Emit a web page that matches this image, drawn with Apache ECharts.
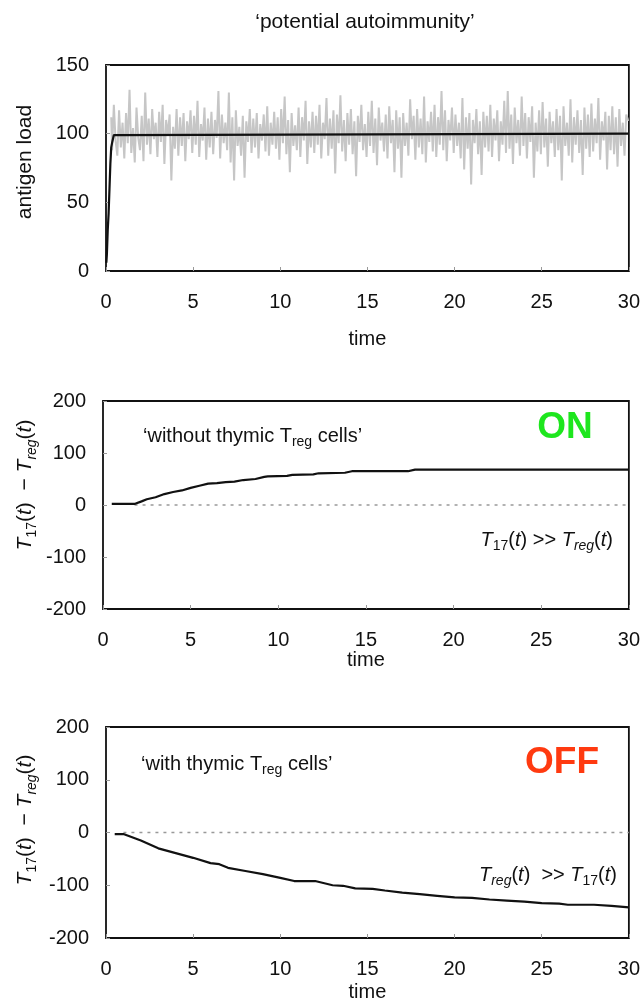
<!DOCTYPE html>
<html>
<head>
<meta charset="utf-8">
<script src="https://cdn.jsdelivr.net/npm/echarts@6/dist/echarts.min.js"></script>
<style>
html,body{margin:0;padding:0;background:#fff;}
#c{width:643px;height:1003px;}
</style>
</head>
<body>
<div id="c"></div>
<script>
// ---------- DATA ----------
const xTicks = [0, 5, 10, 15, 20, 25, 30];
const yTicksTop = [0, 50, 100, 150];
const yTicksDiff = [-200, -100, 0, 100, 200];

// gray stochastic antigen load, sampled every 0.1 time unit starting at t = 0.3
const antigenNoiseStart = 0.3;
const antigenNoiseStep = 0.1;
const antigenNoise = [
  112, 88, 121, 95, 84, 117, 90,
  108, 82, 115, 93, 132, 86, 104, 79, 119, 97,
  88, 113, 80, 130, 92, 111, 85, 118, 96, 108,
  83, 116, 94, 121, 78, 110, 99, 114, 66, 105,
  89, 118, 84, 112, 91, 115, 80, 109, 96, 117,
  86, 113, 92, 124, 83, 107, 95, 119, 81, 111,
  90, 116, 85, 110, 97, 131, 82, 114, 93, 108,
  88, 130, 79, 112, 66, 117, 91, 105, 84, 113,
  68, 109, 94, 118, 86, 111, 90, 115, 82, 107,
  95, 114, 87, 120, 84, 108, 92, 116, 89, 112,
  81, 118, 93, 127, 85, 110, 72, 115, 91, 106,
  88, 119, 83, 112, 95, 124, 78, 109, 90, 116,
  86, 113, 92, 121, 82, 108, 96, 126, 84, 111,
  89, 117, 71, 114, 93, 128, 87, 110, 80, 115,
  92, 118, 85, 109, 69, 113, 94, 121, 88, 107,
  83, 116, 91, 124, 86, 111, 77, 119, 95, 108,
  87, 114, 82, 120, 93, 110, 72, 117, 89, 112,
  68, 115, 91, 108, 84, 125, 96, 113, 81, 118,
  90, 111, 85, 127, 79, 109, 94, 116, 87, 121,
  83, 112, 92, 131, 88, 117, 80, 110, 95, 119,
  86, 114, 91, 108, 82, 126, 74, 112, 89, 115,
  63, 110, 93, 118, 85, 109, 70, 116, 90, 113,
  87, 121, 83, 111, 95, 117, 80, 109, 92, 124,
  86, 131, 89, 114, 78, 119, 93, 110, 84, 127,
  91, 115, 82, 112, 94, 120, 68, 108, 87, 117,
  85, 123, 90, 111, 76, 116, 93, 109, 83, 118,
  88, 113, 66, 120, 91, 108, 84, 125, 79, 112,
  92, 117, 86, 110, 70, 119, 89, 114, 83, 122,
  87, 111, 93, 126, 81, 109, 95, 116, 74, 113,
  88, 120, 85, 112, 76, 118, 91, 108, 84, 114,
  110
];

// deterministic antigen load (black)
const antigenMeanT = [0.02, 0.05, 0.1, 0.15, 0.2, 0.25, 0.3, 0.36, 0.45, 0.5, 30];
const antigenMeanV = [6, 12, 30, 42, 60, 78, 90, 94, 99, 100, 100];

// T17 - Treg without thymic Treg cells
const onT = [0.5, 1.8, 2.2, 2.5, 3, 3.5, 4, 4.5, 5, 5.5, 6, 6.5, 7, 7.5, 8, 8.7, 9.2, 9.4, 10.5, 10.8, 12, 12.3, 13.8, 14.2, 17.4, 17.8, 30];
const onV = [2, 2, 7, 11, 15, 21, 25, 28, 33, 37, 41, 42, 44, 45, 48, 50, 54, 55, 56, 58, 59, 61, 62, 65, 65, 68, 68];

// T17 - Treg with thymic Treg cells
const offT = [0.5, 1, 2, 3, 4, 5, 6, 6.5, 7, 8, 9, 10, 10.8, 12, 13, 13.6, 14.3, 15.3, 16, 17, 18, 19, 20, 21, 22, 23, 24, 25, 26, 26.5, 28, 29, 30];
const offV = [-3, -3, -15, -30, -39, -48, -58, -60, -67, -73, -79, -86, -92, -92, -100, -101, -106, -107, -110, -114, -117, -120, -123, -124, -127, -129, -131, -134, -135, -137, -137, -139, -142];

// zero reference lines (dotted)
const zeroOnT = [1.8, 30];
const zeroOffT = [1, 30];
const zeroV = [0, 0];

// ---------- BUILD ----------
const zip = (a, b) => a.map((v, i) => [v, b[i]]);
const noisePairs = antigenNoise.map((v, i) => [+(antigenNoiseStart + i * antigenNoiseStep).toFixed(2), v]);

const FONT = '"Liberation Sans", Arial, Helvetica, sans-serif';
const tickLabel = { fontFamily: FONT, fontSize: 20, color: '#111' };

function xAx(idx, gap) {
  return {
    type: 'value', gridIndex: idx, min: 0, max: 30, interval: 5,
    axisLine: { show: false, onZero: false },
    axisTick: { show: true, inside: true, length: 4, lineStyle: { color: '#999' } },
    splitLine: { show: false },
    axisLabel: Object.assign({}, tickLabel, { margin: 21, showMaxLabel: true }),
    name: 'time', nameLocation: 'middle', nameGap: gap,
    nameTextStyle: { fontFamily: FONT, fontSize: 20, color: '#111' }
  };
}
function yAx(idx, min, max, interval) {
  return {
    type: 'value', gridIndex: idx, min: min, max: max, interval: interval,
    axisLine: { show: false, onZero: false },
    axisTick: { show: true, inside: true, length: 4, lineStyle: { color: '#999' } },
    splitLine: { show: false },
    axisLabel: Object.assign({}, tickLabel, { margin: 17 })
  };
}
const gridStyle = { show: true, borderColor: '#111', borderWidth: 1.8, backgroundColor: 'transparent' };

const ylabRich = {
  i: { fontFamily: FONT, fontSize: 21, fontStyle: 'italic', fill: '#111', lineHeight: 28 },
  n: { fontFamily: FONT, fontSize: 21, fill: '#111', lineHeight: 28 },
  s: { fontFamily: FONT, fontSize: 14, fill: '#111', verticalAlign: 'bottom', lineHeight: 16 },
  si: { fontFamily: FONT, fontSize: 14, fontStyle: 'italic', fill: '#111', verticalAlign: 'bottom', lineHeight: 16 }
};
const annRich = {
  i: { fontFamily: FONT, fontSize: 20, fontStyle: 'italic', fill: '#111', lineHeight: 26 },
  n: { fontFamily: FONT, fontSize: 20, fill: '#111', lineHeight: 26 },
  s: { fontFamily: FONT, fontSize: 14, fill: '#111', verticalAlign: 'bottom', lineHeight: 16 },
  si: { fontFamily: FONT, fontSize: 14, fontStyle: 'italic', fill: '#111', verticalAlign: 'bottom', lineHeight: 16 }
};
const yDiffText = '{i|T}{s|17}{n|(}{i|t}{n|)  \u2212 }{i|T}{si|reg}{n|(}{i|t}{n|)}';

function txt(x, y, text, rich, align, extra) {
  return Object.assign({
    type: 'text', x: x, y: y, silent: true,
    style: { text: text, rich: rich, align: align || 'left', verticalAlign: 'middle', fill: '#111' }
  }, extra || {});
}

const option = {
  animation: false,
  backgroundColor: '#fff',
  grid: [
    Object.assign({ left: 106, right: 13, top: 65, height: 206 }, gridStyle),
    Object.assign({ left: 103, right: 13, top: 401, height: 208 }, gridStyle),
    Object.assign({ left: 106, right: 13, top: 727, height: 211 }, gridStyle)
  ],
  xAxis: [xAx(0, 58), xAx(1, 40), xAx(2, 44)],
  yAxis: [yAx(0, 0, 150, 50), yAx(1, -200, 200, 100), yAx(2, -200, 200, 100)],
  series: [
    { type: 'line', xAxisIndex: 0, yAxisIndex: 0, data: noisePairs, showSymbol: false, step: 'middle',
      lineStyle: { color: '#c6c6c6', width: 2 }, z: 2 },
    { type: 'line', xAxisIndex: 0, yAxisIndex: 0, data: zip(antigenMeanT, antigenMeanV), showSymbol: false,
      lineStyle: { color: '#111', width: 2.2 }, z: 3 },
    { type: 'line', xAxisIndex: 1, yAxisIndex: 1, data: zip(zeroOnT, zeroV), showSymbol: false,
      lineStyle: { color: '#999', width: 1.4, type: [3, 5] }, z: 2 },
    { type: 'line', xAxisIndex: 1, yAxisIndex: 1, data: zip(onT, onV), showSymbol: false,
      lineStyle: { color: '#111', width: 2.2 }, z: 3 },
    { type: 'line', xAxisIndex: 2, yAxisIndex: 2, data: zip(zeroOffT, zeroV), showSymbol: false,
      lineStyle: { color: '#999', width: 1.4, type: [3, 5] }, z: 2 },
    { type: 'line', xAxisIndex: 2, yAxisIndex: 2, data: zip(offT, offV), showSymbol: false,
      lineStyle: { color: '#111', width: 2.2 }, z: 3 }
  ],
  graphic: [
    { type: 'text', x: 365, y: 22, silent: true,
      style: { text: '\u2018potential autoimmunity\u2019', font: '21px ' + FONT, fill: '#111', align: 'center', verticalAlign: 'middle' } },
    { type: 'text', x: 25, y: 162, rotation: Math.PI / 2, silent: true,
      style: { text: 'antigen load', font: '21px ' + FONT, fill: '#111', align: 'center', verticalAlign: 'middle' } },
    txt(25, 485, yDiffText, ylabRich, 'center', { rotation: Math.PI / 2 }),
    txt(25, 820, yDiffText, ylabRich, 'center', { rotation: Math.PI / 2 }),
    txt(143, 436, '{n|\u2018without thymic T}{s|reg}{n| cells\u2019}', annRich, 'left'),
    txt(141, 764, '{n|\u2018with thymic T}{s|reg}{n| cells\u2019}', annRich, 'left'),
    txt(613, 540, '{i|T}{s|17}{n|(}{i|t}{n|) >> }{i|T}{si|reg}{n|(}{i|t}{n|)}', annRich, 'right'),
    txt(617, 875, '{i|T}{si|reg}{n|(}{i|t}{n|)  >> }{i|T}{s|17}{n|(}{i|t}{n|)}', annRich, 'right'),
    { type: 'text', x: 565, y: 428, silent: true,
      style: { text: 'ON', font: 'bold 37px ' + FONT, fill: '#1ee61e', align: 'center', verticalAlign: 'middle' } },
    { type: 'text', x: 562, y: 763, silent: true,
      style: { text: 'OFF', font: 'bold 37px ' + FONT, fill: '#ff3a10', align: 'center', verticalAlign: 'middle' } }
  ]
};

const chart = echarts.init(document.getElementById('c'), null, { renderer: 'canvas' });
chart.setOption(option);
</script>
</body>
</html>
